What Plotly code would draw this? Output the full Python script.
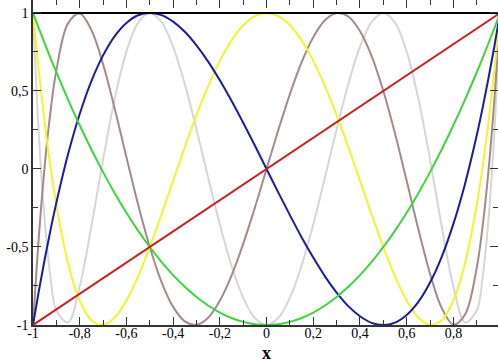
import plotly.graph_objects as go

# sample points (x from -1 to 1)
x = [-1, -0.975, -0.95, -0.925, -0.9, -0.85, -0.8, -0.75, -0.7, -0.65, -0.6, -0.55,
     -0.5, -0.45, -0.4, -0.35, -0.3, -0.25, -0.2, -0.15, -0.1, -0.05,
     0, 0.05, 0.1, 0.15, 0.2, 0.25, 0.3, 0.35, 0.4, 0.45, 0.5, 0.55, 0.6, 0.65,
     0.7, 0.75, 0.8, 0.85, 0.9, 0.925, 0.95, 0.975, 1]

t0_x = [-1, 1]
t0_y = [1, 1]
t1_x = [-1, 1]
t1_y = [-1, 1]
t2 = [1, 0.901, 0.805, 0.711, 0.62, 0.445, 0.28, 0.125, -0.02, -0.155, -0.28, -0.395,
      -0.5, -0.595, -0.68, -0.755, -0.82, -0.875, -0.92, -0.955, -0.98, -0.995,
      -1, -0.995, -0.98, -0.955, -0.92, -0.875, -0.82, -0.755, -0.68, -0.595, -0.5,
      -0.395, -0.28, -0.155, -0.02, 0.125, 0.28, 0.445, 0.62, 0.711, 0.805, 0.901, 1]
t3 = [-1, -0.782, -0.58, -0.391, -0.216, 0.094, 0.352, 0.563, 0.728, 0.852, 0.936, 0.985,
      1, 0.986, 0.944, 0.879, 0.792, 0.688, 0.568, 0.437, 0.296, 0.15,
      0, -0.15, -0.296, -0.437, -0.568, -0.688, -0.792, -0.879, -0.944, -0.986, -1,
      -0.985, -0.936, -0.852, -0.728, -0.563, -0.352, -0.094, 0.216, 0.391, 0.58, 0.782, 1]
t4 = [1, 0.625, 0.296, 0.012, -0.231, -0.604, -0.843, -0.969, -0.999, -0.952, -0.843, -0.688,
      -0.5, -0.292, -0.075, 0.14, 0.345, 0.531, 0.693, 0.824, 0.921, 0.98,
      1, 0.98, 0.921, 0.824, 0.693, 0.531, 0.345, 0.14, -0.075, -0.292, -0.5,
      -0.688, -0.843, -0.952, -0.999, -0.969, -0.843, -0.604, -0.231, 0.012, 0.296, 0.625, 1]
t5 = [-1, -0.435, 0.017, 0.369, 0.632, 0.933, 0.997, 0.891, 0.671, 0.386, 0.076, -0.228,
      -0.5, -0.723, -0.884, -0.977, -0.999, -0.953, -0.845, -0.684, -0.48, -0.248,
      0, 0.248, 0.48, 0.684, 0.845, 0.953, 0.999, 0.977, 0.884, 0.723, 0.5,
      0.228, -0.076, -0.386, -0.671, -0.891, -0.997, -0.933, -0.632, -0.369, -0.017, 0.435, 1]
t6 = [1, 0.224, -0.328, -0.695, -0.907, -0.983, -0.752, -0.367, 0.06, 0.45, 0.752, 0.938,
      1, 0.942, 0.782, 0.543, 0.255, -0.055, -0.355, -0.619, -0.825, -0.955,
      -1, -0.955, -0.825, -0.619, -0.355, -0.055, 0.255, 0.543, 0.782, 0.942, 1,
      0.938, 0.752, 0.45, 0.06, -0.367, -0.752, -0.983, -0.907, -0.695, -0.328, 0.224, 1]

x_ticks = [-1, -0.8, -0.6, -0.4, -0.2, 0, 0.2, 0.4, 0.6, 0.8]
x_labels = ['-1', '-0,8', '-0,6', '-0,4', '-0,2', '0', '0,2', '0,4', '0,6', '0,8']
y_ticks = [-1, -0.5, 0, 0.5, 1]
y_labels = ['-1', '-0,5', '0', '0,5', '1']

fig = go.Figure()
# drawn from the highest order down so T1 ends up on top
fig.add_trace(go.Scatter(x=x, y=t6, mode='lines', line=dict(color='#d6d6d6', width=2, shape='spline')))
fig.add_trace(go.Scatter(x=x, y=t5, mode='lines', line=dict(color='#a48a8a', width=2, shape='spline')))
fig.add_trace(go.Scatter(x=x, y=t4, mode='lines', line=dict(color='#f4f42a', width=2, shape='spline')))
fig.add_trace(go.Scatter(x=x, y=t3, mode='lines', line=dict(color='#1c1ca0', width=2, shape='spline')))
fig.add_trace(go.Scatter(x=x, y=t2, mode='lines', line=dict(color='#3ed43e', width=2, shape='spline')))
fig.add_trace(go.Scatter(x=t1_x, y=t1_y, mode='lines', line=dict(color='#cc1c1c', width=2)))
fig.add_trace(go.Scatter(x=t0_x, y=t0_y, mode='lines', line=dict(color='black', width=2)))
# dummy trace so the top/right tick axes get drawn
fig.add_trace(go.Scatter(x=[None], y=[None], xaxis='x2', yaxis='y2', hoverinfo='skip'))

xr = [-1, 0.991]
yr = [-1, 1.083]
tickfont = dict(family='Liberation Serif', size=14, color='black')

fig.update_layout(
    width=498, height=363,
    margin=dict(l=33, r=0, t=0, b=38),
    paper_bgcolor='white', plot_bgcolor='white',
    showlegend=False,
    xaxis=dict(range=xr, tickvals=x_ticks, ticktext=x_labels, tickfont=tickfont,
               automargin=False, ticklabelstandoff=-6,
               ticks='inside', ticklen=8, tickwidth=1, tickcolor='#333',
               minor=dict(dtick=0.1, ticks='inside', ticklen=5, tickcolor='#333'),
               showline=True, linecolor='#333', linewidth=1.5,
               showgrid=False, zeroline=False),
    yaxis=dict(range=yr, tickvals=y_ticks, ticktext=y_labels, tickfont=tickfont,
               automargin=False,
               ticks='inside', ticklen=8, tickwidth=1, tickcolor='#333',
               minor=dict(dtick=0.25, ticks='inside', ticklen=5, tickcolor='#333'),
               showline=True, linecolor='#333', linewidth=1.5,
               showgrid=False, zeroline=False),
    xaxis2=dict(range=xr, overlaying='x', side='top', tickvals=x_ticks, showticklabels=False,
                automargin=False,
                ticks='inside', ticklen=8, tickcolor='#333',
                minor=dict(dtick=0.1, ticks='inside', ticklen=5, tickcolor='#333'),
                showline=False, showgrid=False, zeroline=False),
    yaxis2=dict(range=yr, overlaying='y', side='right', tickvals=y_ticks, showticklabels=False,
                automargin=False,
                ticks='inside', ticklen=8, tickcolor='#333',
                minor=dict(dtick=0.25, ticks='inside', ticklen=5, tickcolor='#333'),
                showline=False, showgrid=False, zeroline=False),
)

# axis title placed by hand so it sits below the tick labels
fig.add_annotation(text='<b>x</b>', x=0, xref='x', y=0, yref='paper',
                   yanchor='middle', yshift=-28, showarrow=False,
                   font=dict(family='Liberation Serif', size=18, color='black'))

# the page's default body margin would shift the figure by 8px
fig.write_html("out.html", config={'displayModeBar': False},
               post_script="document.body.style.margin = '0';")
